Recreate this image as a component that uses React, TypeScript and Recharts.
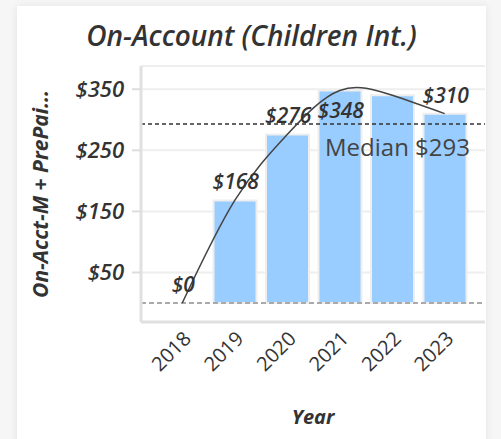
import React from 'react';
import {
  ComposedChart,
  Bar,
  Line,
  XAxis,
  YAxis,
  CartesianGrid,
  ReferenceLine,
  LabelList,
  Label,
} from 'recharts';

const years = ['2018', '2019', '2020', '2021', '2022', '2023'];
const amounts = [0, 168, 276, 348, 340, 310];
const yTicks = [50, 150, 250, 350];
const medianValue = 293;
const yDomainMin = -31;
const yDomainMax = 388;

const chartData = years.map((year, i) => ({ year, amount: amounts[i] }));

const FONT = "'Open Sans', 'Noto Sans', sans-serif";
const TEXT = '#333333';

// label placement rules for value labels (styling only)
const labelPlacement: Record<string, 'above' | 'below' | 'hidden'> = {
  '2021': 'below',
  '2022': 'hidden',
};

const renderValueLabel = (props: any) => {
  const { x, y, value, index } = props;
  const year = years[index];
  const place = labelPlacement[year] || 'above';
  if (place === 'hidden') return null;
  const ty = place === 'below' ? Number(y) + 28 : Number(y) - 11;
  return (
    <text
      key={`lbl-${index}`}
      x={Number(x) + 1}
      y={ty}
      textAnchor="middle"
      fill={TEXT}
      fontFamily={FONT}
      fontSize={21}
      fontWeight={600}
      fontStyle="italic"
    >
      {`$${value}`}
    </text>
  );
};

export default function App() {
  return (
    <div
      style={{
        position: 'absolute',
        left: 0,
        top: 0,
        width: 501,
        height: 439,
        background: '#f6f6f6',
        overflow: 'hidden',
      }}
    >
      <div
        style={{
          position: 'absolute',
          left: 17,
          top: 6,
          width: 469,
          height: 460,
          background: '#ffffff',
          boxShadow: '0 0 8px rgba(0,0,0,0.08)',
        }}
      >
        <div
          style={{
            position: 'absolute',
            left: 0,
            top: 10,
            width: 469,
            textAlign: 'center',
            fontFamily: FONT,
            fontSize: 28,
            fontWeight: 600,
            fontStyle: 'italic',
            color: TEXT,
            lineHeight: 'normal',
            whiteSpace: 'nowrap',
          }}
        >
          On-Account (Children Int.)
        </div>
        <div style={{ position: 'absolute', left: 0, top: 0 }}>
          <ComposedChart
            width={469}
            height={433}
            data={chartData}
            margin={{ top: 60, right: 1, bottom: 0, left: 0 }}
            barCategoryGap={5}
          >
            <CartesianGrid vertical={false} stroke="#eeeeee" strokeWidth={2} />
            <XAxis
              dataKey="year"
              type="category"
              height={117}
              padding={{ left: 15, right: 14 }}
              axisLine={{ stroke: '#e0e0e0', strokeWidth: 3 }}
              tickLine={false}
              interval={0}
              angle={-45}
              textAnchor="end"
              tick={{ fill: TEXT, fontSize: 20, fontFamily: FONT, fontWeight: 500 }}
            >
              <Label
                value="Year"
                position="insideBottom"
                offset={15}
                fill={TEXT}
                fontSize={20}
                fontWeight={700}
                fontStyle="italic"
                fontFamily={FONT}
              />
            </XAxis>
            <YAxis
              width={124}
              domain={[yDomainMin, yDomainMax]}
              ticks={yTicks}
              allowDataOverflow
              tickFormatter={(v: number) => `$${v}`}
              axisLine={{ stroke: '#e0e0e0', strokeWidth: 3 }}
              tickLine={{ stroke: '#dddddd', strokeWidth: 2 }}
              tickSize={9}
              tickMargin={8}
              tick={{
                fill: TEXT,
                fontSize: 22,
                fontFamily: FONT,
                fontWeight: 600,
                fontStyle: 'italic',
              }}
            >
              <Label
                value="On-Acct-M + PrePai..."
                angle={-90}
                position="insideLeft"
                offset={24}
                fill={TEXT}
                fontSize={21}
                fontWeight={700}
                fontStyle="italic"
                fontFamily={FONT}
                style={{ textAnchor: 'middle' }}
              />
            </YAxis>
            <ReferenceLine
              y={0}
              stroke="#aaaaaa"
              strokeWidth={2}
              strokeDasharray="5 3"
            />
            <Bar
              dataKey="amount"
              fill="#99ccff"
              stroke="#eeeeee"
              strokeWidth={2}
              isAnimationActive={false}
            />
            <ReferenceLine
              y={medianValue}
              stroke="#333333"
              strokeWidth={1.5}
              strokeDasharray="4 3"
            >
              <Label
                value={`Median $${medianValue}`}
                position="insideTopRight"
                offset={15}
                fill="#444444"
                fontSize={24}
                fontFamily={FONT}
              />
            </ReferenceLine>
            <Line
              dataKey="amount"
              type="natural"
              stroke="#444444"
              strokeWidth={1.5}
              dot={false}
              activeDot={false}
              isAnimationActive={false}
            >
              <LabelList dataKey="amount" content={renderValueLabel} />
            </Line>
          </ComposedChart>
        </div>
      </div>
    </div>
  );
}
